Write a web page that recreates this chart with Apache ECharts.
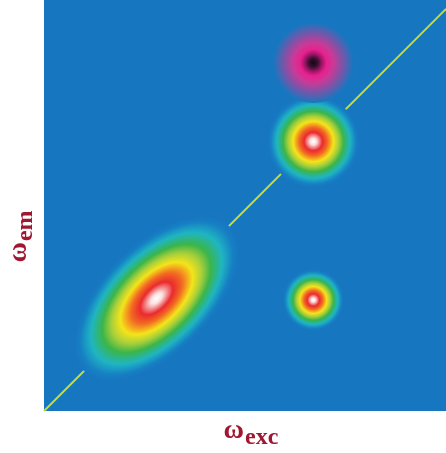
<!DOCTYPE html>
<html>
<head>
<title>2D spectrum</title>
<meta charset="utf-8">
<script type="text/javascript" src="https://cdn.jsdelivr.net/npm/echarts@6/dist/echarts.min.js"></script>
</head>
<body style="margin:0; background:#fff">
	<div id="main" style="width: 446px; height: 453px; margin: 0px"></div>
</body>
<script>
	// axis ranges (excitation / emission frequency, arbitrary units)
	const excRange = [0, 100];
	const emRange = [0, 102.2];

	// peaks: centre, half-width along the diagonal, half-width across it, sign
	const peakExc = [28, 67, 67, 67];
	const peakEm = [28, 67, 86.6, 27.6];
	const peakLong = [25.5, 11.4, 10.0, 7.6];
	const peakShort = [13.5, 11.4, 10.0, 7.6];
	const peakSign = [1, 1, -1, 1];

	// diagonal omega_exc = omega_em
	const diagExc = [0, 100];
	const diagEm = [0, 100];

	const bgColor = '#1677c0';

	// colour rings from the centre outwards
	const posStops = [
		[0.00, '#ffffff'], [0.07, '#fbe0e0'], [0.20, '#ea2a2e'], [0.31, '#f26a22'],
		[0.44, '#f4e41a'], [0.55, '#a8cf3a'], [0.66, '#3bb54a'], [0.80, '#1fb5c2'],
		[0.93, '#1680c4'], [1.00, bgColor]
	];
	const negStops = [
		[0.00, '#120812'], [0.11, '#3a0f2e'], [0.22, '#a0156a'], [0.33, '#e8208e'],
		[0.50, '#c93a97'], [0.68, '#8c4ea4'], [0.86, '#4b65b3'], [1.00, bgColor]
	];

	function gradient(stops) {
		return {
			type: 'radial', x: 0.5, y: 0.5, r: 0.5,
			colorStops: stops.map(function (s) { return { offset: s[0], color: s[1] }; })
		};
	}

	var chartDom = document.getElementById('main');
	var myChart = echarts.init(chartDom);

	var nameStyle = {
		fontFamily: 'Liberation Serif',
		fontWeight: 'bold',
		color: '#a11630',
		rich: {
			w: { fontFamily: 'Liberation Serif', fontWeight: 'bold', color: '#a11630', fontSize: 28, lineHeight: 30 },
			s: { fontFamily: 'Liberation Serif', fontWeight: 'bold', color: '#a11630', fontSize: 24, lineHeight: 30, padding: [14, 0, 0, 1] }
		}
	};

	var option = {
		animation: false,
		grid: {
			left: 44, right: 0, top: 0, bottom: 42,
			outerBoundsMode: 'none', containLabel: false,
			show: true, backgroundColor: bgColor, borderWidth: 0
		},
		xAxis: {
			type: 'value', min: excRange[0], max: excRange[1],
			name: '{w|ω}{s|exc}', nameLocation: 'middle', nameGap: 5,
			nameTextStyle: Object.assign({ padding: [0, 0, 0, 12] }, nameStyle),
			axisLine: { show: false }, axisTick: { show: false },
			axisLabel: { show: false }, splitLine: { show: false }
		},
		yAxis: {
			type: 'value', min: emRange[0], max: emRange[1],
			name: '{w|ω}{s|em}', nameLocation: 'middle', nameGap: 10,
			nameTextStyle: Object.assign({ padding: [0, 62, 0, 0] }, nameStyle),
			axisLine: { show: false }, axisTick: { show: false },
			axisLabel: { show: false }, splitLine: { show: false }
		},
		series: [
			{
				type: 'line', silent: true, z: 2, showSymbol: false,
				data: diagExc.map(function (x, i) { return [x, diagEm[i]]; }),
				lineStyle: { color: '#c9dc2c', width: 2 }
			},
			{
				type: 'scatter', silent: true, z: 3,
				data: []
			}
		]
	};
	myChart.setOption(option);

	// peak sizes are given in axis units, turn them into pixels through the axis scale
	var pxPerUnit = myChart.convertToPixel({ xAxisIndex: 0 }, 1) - myChart.convertToPixel({ xAxisIndex: 0 }, 0);

	var peaks = peakExc.map(function (x, i) {
		return {
			value: [x, peakEm[i]],
			symbolSize: [2 * peakLong[i] * pxPerUnit, 2 * peakShort[i] * pxPerUnit],
			symbolRotate: 45,
			itemStyle: { color: gradient(peakSign[i] > 0 ? posStops : negStops), opacity: 1 }
		};
	});

	myChart.setOption({ series: [{}, { data: peaks }] });
</script>
</html>
